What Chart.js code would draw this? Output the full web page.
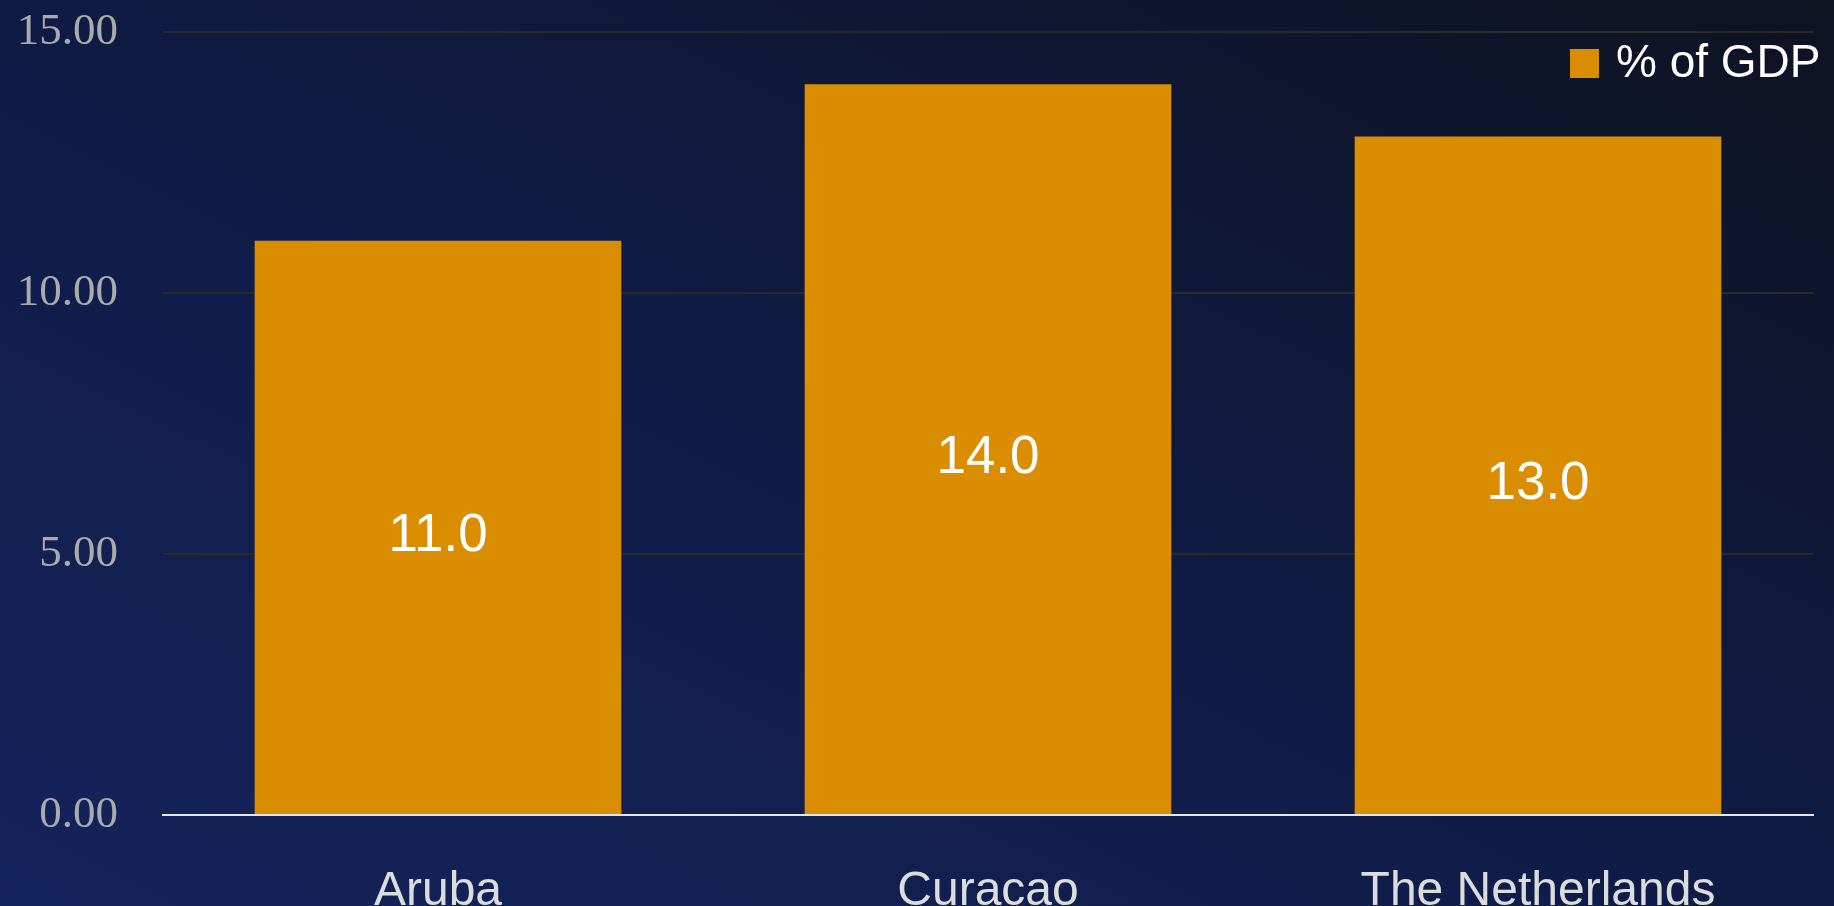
<!DOCTYPE html>
<html>
<head>
<meta charset="utf-8">
<script src="https://cdn.jsdelivr.net/npm/chart.js@4.4.1/dist/chart.umd.min.js"></script>
<style>
    html, body {
        margin: 0;
        padding: 0;
        width: 1834px;
        height: 906px;
        overflow: hidden;
        background: linear-gradient(to top right, #14245c 0%, #101c48 45%, #0e1221 100%);
    }
    #chart-gdp {
        display: block;
    }
</style>
</head>
<body>
<canvas id="chart-gdp" width="1834" height="906"></canvas>
<script>
const categories = ['Aruba', 'Curacao', 'The Netherlands'];
const gdpShare = [11.0, 14.0, 13.0];
const seriesLabel = '% of GDP';
const yTicks = [0, 5, 10, 15];

const barColor = '#db8d00';

// value labels in the middle of each bar
const barValueLabels = {
    id: 'barValueLabels',
    afterDatasetsDraw(chart) {
        const ctx = chart.ctx;
        const meta = chart.getDatasetMeta(0);
        ctx.save();
        ctx.font = '53px "Liberation Sans", Arial, sans-serif';
        ctx.fillStyle = '#ffffff';
        ctx.textAlign = 'center';
        ctx.textBaseline = 'middle';
        meta.data.forEach((bar, i) => {
            const value = chart.data.datasets[0].data[i];
            ctx.fillText(value.toFixed(1), bar.x, (bar.y + bar.base) / 2 + 9);
        });
        ctx.restore();
    }
};

// legend drawn over the plot, top right
const cornerLegend = {
    id: 'cornerLegend',
    afterDraw(chart) {
        const ctx = chart.ctx;
        const ds = chart.data.datasets[0];
        ctx.save();
        ctx.fillStyle = ds.backgroundColor;
        ctx.fillRect(1570, 49, 29, 29);
        ctx.font = '46px "Liberation Sans", Arial, sans-serif';
        ctx.fillStyle = '#ffffff';
        ctx.textAlign = 'left';
        ctx.textBaseline = 'middle';
        ctx.fillText(ds.label, 1616, 64);
        ctx.restore();
    }
};

new Chart(document.getElementById('chart-gdp'), {
    type: 'bar',
    data: {
        labels: categories,
        datasets: [{
            label: seriesLabel,
            data: gdpShare,
            backgroundColor: barColor,
            borderWidth: 0,
            barPercentage: 0.8333,
            categoryPercentage: 0.8
        }]
    },
    options: {
        responsive: false,
        animation: false,
        layout: {
            padding: { top: 32, right: 21, left: 0, bottom: 0 }
        },
        plugins: {
            legend: { display: false },
            tooltip: { enabled: false }
        },
        scales: {
            x: {
                grid: { display: false },
                border: { display: true, color: '#e6e6e6', width: 2 },
                ticks: {
                    color: '#dcdcdc',
                    padding: 40,
                    font: { family: '"Liberation Sans", Arial, sans-serif', size: 48 }
                },
                afterFit(scale) {
                    scale.height = 91;
                    scale.paddingLeft = 0;
                    scale.paddingRight = 0;
                }
            },
            y: {
                min: 0,
                max: 15,
                afterBuildTicks(scale) {
                    scale.ticks = yTicks.map(v => ({ value: v }));
                },
                grid: {
                    color: '#2b2a26',
                    lineWidth: 2,
                    drawTicks: false
                },
                border: { display: false },
                ticks: {
                    color: '#ababab',
                    padding: 45,
                    font: { family: '"Liberation Serif", "Times New Roman", serif', size: 45 },
                    callback: v => Number(v).toFixed(2)
                },
                afterFit(scale) {
                    scale.width = 163;
                    scale.paddingTop = 0;
                    scale.paddingBottom = 0;
                }
            }
        }
    },
    plugins: [barValueLabels, cornerLegend]
});
</script>
</body>
</html>
